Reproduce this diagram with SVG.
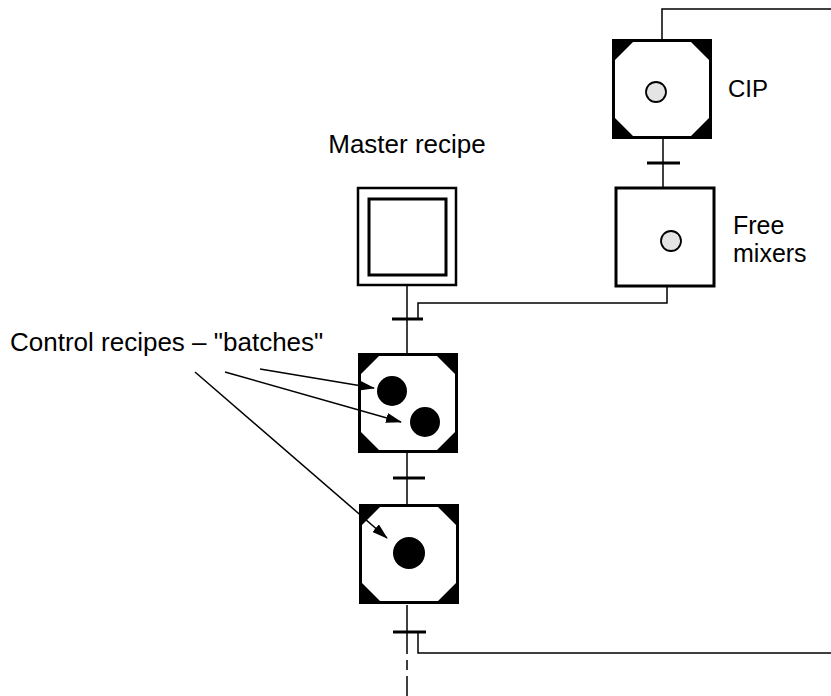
<svg xmlns="http://www.w3.org/2000/svg" width="831" height="696" viewBox="0 0 831 696">
<style>
.t{font-family:"Liberation Sans",Arial,sans-serif;font-size:26px;fill:#000}
.ln{fill:none;stroke:#000;stroke-width:1.5}
.bar{fill:none;stroke:#000;stroke-width:3}
.gray{fill:#e4e4e4;stroke:#000;stroke-width:1.8}
.dot{fill:#000}
</style>
<defs>
<symbol id="step" viewBox="0 0 100 100" width="100" height="100">
<rect x="0" y="0" width="100" height="100" fill="#000"/>
<polygon points="21,3 79,3 97,21 97,79 79,97 21,97 3,79 3,21" fill="#fff"/>
</symbol>
<marker id="ah" markerWidth="16" markerHeight="10" refX="15" refY="5" orient="auto" markerUnits="userSpaceOnUse">
<path d="M0,0 L16,5 L0,10 Z" fill="#000"/>
</marker>
</defs>
<rect width="831" height="696" fill="#fff"/>
<g id="cip">
<use href="#step" x="612" y="39"/>
<circle class="gray" cx="656" cy="92" r="10"/>
<text class="t" x="728" y="97" style="font-size:24px">CIP</text>
</g>
<g id="free-mixers">
<rect x="616" y="188" width="98" height="98" fill="#fff" stroke="#000" stroke-width="3"/>
<circle class="gray" cx="671" cy="241" r="10"/>
<text class="t" x="733" y="234" style="font-size:25px">Free</text>
<text class="t" x="733" y="262" style="font-size:25px">mixers</text>
</g>
<g id="master-recipe">
<rect x="358" y="188" width="98" height="97" fill="#fff" stroke="#000" stroke-width="2.5"/>
<rect x="369" y="199" width="77" height="76" fill="#fff" stroke="#000" stroke-width="3"/>
<text class="t" x="407" y="153" text-anchor="middle">Master recipe</text>
</g>
<g id="control-recipes-label">
<text class="t" x="10" y="351">Control recipes – "batches"</text>
</g>
<g id="batch-step-1">
<use href="#step" x="358" y="353"/>
<circle class="dot" cx="392" cy="391" r="15"/>
<circle class="dot" cx="425" cy="422" r="15"/>
</g>
<g id="batch-step-2">
<use href="#step" x="359" y="504"/>
<circle class="dot" cx="409" cy="553" r="16"/>
</g>
<g id="connectors">
<path class="ln" d="M662,39 V9 H831"/>
<path class="ln" d="M663,139 V187"/>
<path class="bar" d="M647,163 H680"/>
<path class="ln" d="M667,287 V303 H418 V319"/>
<path class="ln" d="M407,286 V353"/>
<path class="bar" d="M392,319 H423"/>
<path class="ln" d="M407,452 V504"/>
<path class="bar" d="M393,478 H425"/>
<path class="ln" d="M407,605 V632"/>
<path class="bar" d="M393,632 H426"/>
<path class="ln" d="M418,632 V653 H831"/>
<path class="ln" d="M407,632 V696" stroke-dasharray="22,6,10,6"/>
<path class="ln" d="M260,369 L374,388" marker-end="url(#ah)"/>
<path class="ln" d="M225,372 L401,422" marker-end="url(#ah)"/>
<path class="ln" d="M195,372 L387,538" marker-end="url(#ah)"/>
</g>
</svg>
